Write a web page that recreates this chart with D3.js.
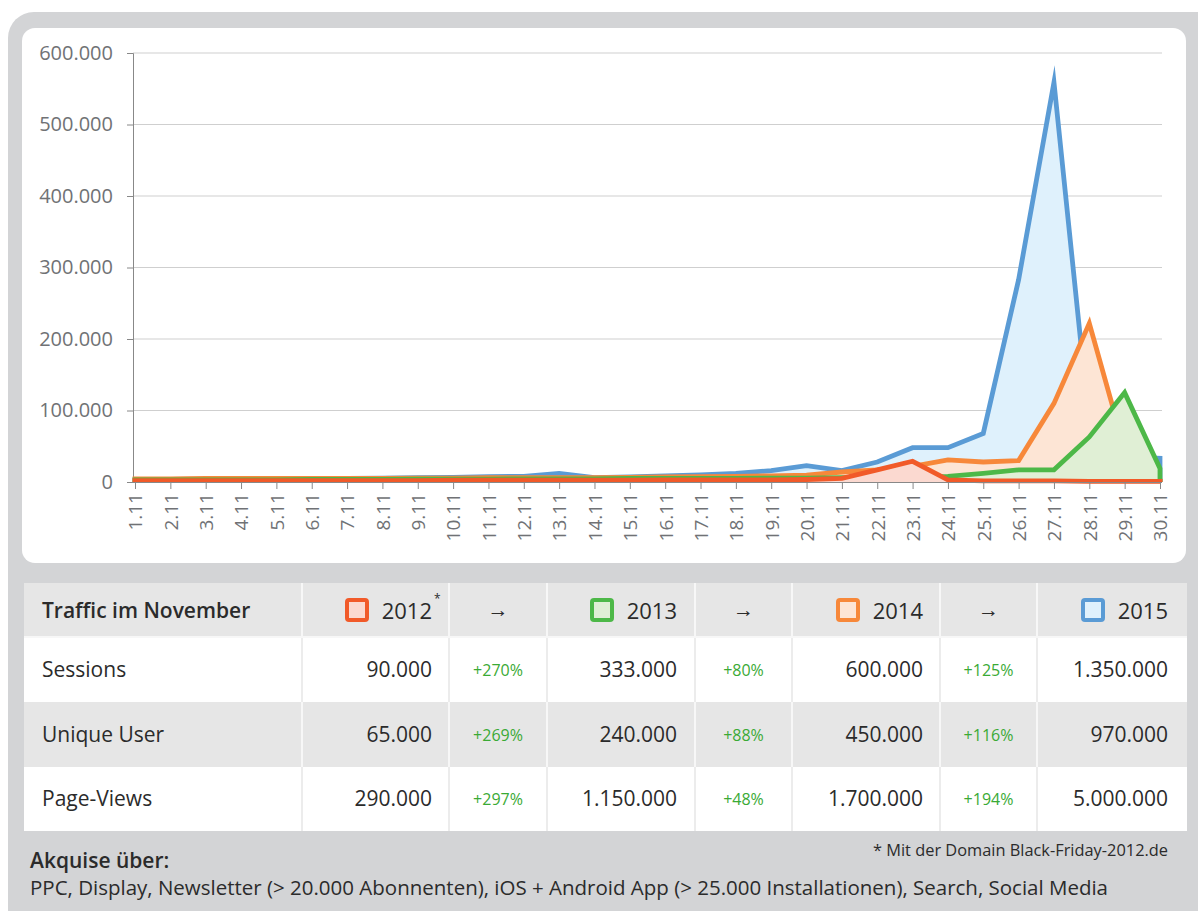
<!DOCTYPE html>
<html><head><meta charset="utf-8">
<script src="https://cdn.jsdelivr.net/npm/d3@7"></script>
<style>
html,body{margin:0;padding:0;background:#fff;}
svg{display:block;font-family:"Open Sans",sans-serif;}
</style></head>
<body><svg id="c" width="1198" height="911"></svg>
<script>
const days = ["1.11","2.11","3.11","4.11","5.11","6.11","7.11","8.11","9.11","10.11","11.11","12.11","13.11","14.11","15.11","16.11","17.11","18.11","19.11","20.11","21.11","22.11","23.11","24.11","25.11","26.11","27.11","28.11","29.11","30.11"];
const s2015 = [3000,3500,4000,4000,4500,5000,5000,5500,6000,6500,7500,8000,12000,6000,7000,8500,10000,12000,16000,23000,16000,28000,48000,48000,68000,283000,559000,80000,35000,33000];
const s2014 = [4500,4500,5000,5000,5000,5000,5000,5000,5500,5500,6000,6000,6000,6000,6500,7000,7500,8000,8500,9500,14000,17000,22000,31000,28000,30000,110000,222000,46000,3000];
const s2013 = [3000,3000,3000,3000,3000,3500,3500,3500,4000,4000,4000,4500,4500,4500,5000,5000,5000,5000,5500,5500,6000,6000,6500,8000,12000,17000,17000,63000,125000,19000];
const s2012 = [2000,2000,2000,2000,2000,2000,2000,2000,2000,2500,2500,2500,2500,2500,2500,3000,3000,3000,3000,3500,5000,17000,29000,3000,1500,1500,1500,1000,1000,1000];
const yTicks = [0,100000,200000,300000,400000,500000,600000];

const years = ["2012","2013","2014","2015"];
const rowLabels = ["Sessions","Unique User","Page-Views"];
const v2012 = ["90.000","65.000","290.000"];
const g12to13 = ["+270%","+269%","+297%"];
const v2013 = ["333.000","240.000","1.150.000"];
const g13to14 = ["+80%","+88%","+48%"];
const v2014 = ["600.000","450.000","1.700.000"];
const g14to15 = ["+125%","+116%","+194%"];
const v2015 = ["1.350.000","970.000","5.000.000"];

const colors = {"2012":"#f15a29","2013":"#4db848","2014":"#f7883a","2015":"#5a9bd5"};
const fills  = {"2012":"#fbd9d0","2013":"#e0efd5","2014":"#fde5d5","2015":"#dff1fc"};

const svg = d3.select("#c");
const loc = d3.formatLocale({decimal:",",thousands:".",grouping:[3],currency:["","€"]});
const fmt = loc.format(",");

// background frame
svg.append("rect").attr("x",8).attr("y",12).attr("width",1230).attr("height",940).attr("rx",26).attr("fill","#d3d4d6");
svg.append("rect").attr("x",22).attr("y",28).attr("width",1164).attr("height",535).attr("rx",13).attr("fill","#fff");

const x = d3.scalePoint().domain(days).range([135,1160]);
const y = d3.scaleLinear().domain([0,600000]).range([482,53]);

// grid
svg.append("g").selectAll("line").data(yTicks.filter(d=>d>0)).join("line")
  .attr("x1",133).attr("x2",1162).attr("y1",d=>y(d)).attr("y2",d=>y(d))
  .attr("stroke","#cfcfcf").attr("stroke-width",1.2);

// y axis
const ya = svg.append("g").attr("transform","translate(133,0)").call(d3.axisLeft(y).tickValues(yTicks).tickFormat(fmt).tickSize(6).tickPadding(14));
ya.select(".domain").attr("stroke","#888");
ya.selectAll(".tick line").attr("stroke","#888");
ya.selectAll("text").attr("font-family","Open Sans").attr("font-size",20).attr("fill","#707275");

// series
const series = [["2015",s2015],["2014",s2014],["2013",s2013],["2012",s2012]];
const area = d3.area().x((d,i)=>x(days[i])).y0(y(0)).y1(d=>y(d));
const outline = d3.line().x(d=>x(d[0])).y(d=>y(d[1]));
series.forEach(([yr,vals])=>{
  svg.append("path").datum(vals).attr("d",area).attr("fill",fills[yr]);
  const pts = [[days[0],0]].concat(vals.map((v,i)=>[days[i],v])).concat([[days[days.length-1],0]]);
  svg.append("path").datum(pts).attr("d",outline).attr("fill","none")
    .attr("stroke",colors[yr]).attr("stroke-width",4.8).attr("stroke-linejoin","miter").attr("stroke-miterlimit",10);
});

// x axis
const xa = svg.append("g").attr("transform","translate(0,482)").call(d3.axisBottom(x).tickSize(7).tickPadding(6));
xa.select(".domain").attr("stroke","#888").attr("d","M133,0.5H1162");
xa.selectAll(".tick line").attr("stroke","#888");
xa.selectAll("text").attr("font-family","Open Sans").attr("font-size",19).attr("fill","#707275")
  .attr("transform","rotate(-90)").attr("text-anchor","end").attr("x",-11).attr("y",0).attr("dy","0.36em");

// table
const T = svg.append("g");
const colEdges = [24,302,449,547,695,792,940,1037,1187];
const rowEdges = [583,637,702,767,831];
const rowFill = ["#e6e6e6","#ffffff","#e6e6e6","#ffffff"];
rowFill.forEach((f,i)=>{
  T.append("rect").attr("x",24).attr("y",rowEdges[i]).attr("width",1163).attr("height",rowEdges[i+1]-rowEdges[i]).attr("fill",f);
});
rowFill.forEach((f,i)=>{
  colEdges.slice(1,-1).forEach(cx=>{
    T.append("line").attr("x1",cx).attr("x2",cx).attr("y1",rowEdges[i]).attr("y2",rowEdges[i+1])
      .attr("stroke", f==="#ffffff" ? "#ececec" : "#f7f7f7").attr("stroke-width",2);
  });
});
T.append("line").attr("x1",24).attr("x2",1187).attr("y1",637).attr("y2",637).attr("stroke","#f7f7f7").attr("stroke-width",2);

const txt = "#2b2b2b";
T.append("text").attr("x",42).attr("y",611).attr("dy","0.35em").attr("font-size",21).attr("font-weight",600).attr("fill",txt).text("Traffic im November");
const textRight = [432,677,923,1168];
const squareX = [347,592,838,1083];
years.forEach((yr,i)=>{
  T.append("text").attr("x",textRight[i]).attr("y",611).attr("dy","0.35em").attr("font-size",22)
    .attr("text-anchor","end").attr("fill",txt).text(yr);
  if(i===0){ T.append("text").attr("x",434).attr("y",603).attr("font-size",12).attr("fill",txt).text("*"); }
  T.append("rect").attr("x",squareX[i]).attr("y",600).attr("width",20).attr("height",20).attr("rx",2)
    .attr("fill",fills[yr]).attr("stroke",colors[yr]).attr("stroke-width",4);
});
[[449,547],[695,792],[940,1037]].forEach(c=>{
  T.append("text").attr("x",(c[0]+c[1])/2).attr("y",610).attr("dy","0.35em").attr("text-anchor","middle").attr("font-size",21).attr("fill",txt).text("→");
});
const rowCenters = [670,735,799];
rowLabels.forEach((lab,r)=>{
  const cy = rowCenters[r];
  T.append("text").attr("x",42).attr("y",cy).attr("dy","0.35em").attr("font-size",21).attr("fill",txt).text(lab);
  [v2012,v2013,v2014,v2015].forEach((arr,i)=>{
    T.append("text").attr("x",textRight[i]).attr("y",cy).attr("dy","0.35em").attr("text-anchor","end").attr("font-size",21).attr("fill",txt).text(arr[r]);
  });
  [[g12to13,449,547],[g13to14,695,792],[g14to15,940,1037]].forEach(([arr,a,b])=>{
    T.append("text").attr("x",(a+b)/2).attr("y",cy).attr("dy","0.35em").attr("text-anchor","middle").attr("font-size",16).attr("fill","#3aaa35").text(arr[r]);
  });
});

// footer
svg.append("text").attr("x",30).attr("y",868).attr("font-size",21).attr("font-weight",600).attr("fill",txt).text("Akquise über:");
svg.append("text").attr("x",1168).attr("y",856).attr("text-anchor","end").attr("font-size",16).attr("fill",txt)
  .attr("textLength",295).attr("lengthAdjust","spacingAndGlyphs").text("* Mit der Domain Black-Friday-2012.de");
svg.append("text").attr("x",30).attr("y",895).attr("font-size",19.5).attr("fill",txt)
  .attr("textLength",1078).attr("lengthAdjust","spacingAndGlyphs")
  .text("PPC, Display, Newsletter (> 20.000 Abonnenten), iOS + Android App (> 25.000 Installationen), Search, Social Media");
</script></body></html>
